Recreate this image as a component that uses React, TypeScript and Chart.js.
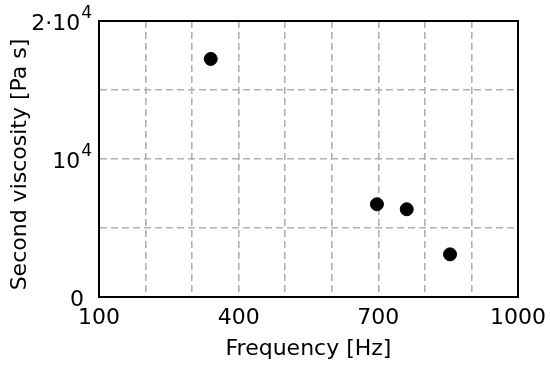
import React, { useEffect, useRef } from "react";
import { Chart, registerables } from "chart.js";

Chart.register(...registerables);

const frequencies = [340, 697, 761, 854];
const viscosities = [17250, 6720, 6360, 3090];
const xTickLabels: Record<number, string> = { 100: "100", 400: "400", 700: "700", 1000: "1000" };
// y tick labels: value, mantissa text, exponent (superscript) text
const yTickValues = [0, 10000, 20000];
const yTickBase = ["0", "10", "2·10"];
const yTickExp = ["", "4", "4"];
const xTitle = "Frequency [Hz]";
const yTitle = "Second viscosity [Pa s]";

const FAMILY = "'DejaVu Sans', sans-serif";

export default function App() {
  const ref = useRef<HTMLCanvasElement>(null);
  useEffect(() => {
    if (!ref.current) return;
    const font = { family: FAMILY, size: 22 };
    const chart = new Chart(ref.current, {
      type: "scatter",
      data: {
        datasets: [
          {
            data: frequencies.map((f, i) => ({ x: f, y: viscosities[i] })),
            backgroundColor: "#000",
            borderColor: "#000",
            pointRadius: 6.5,
            pointHoverRadius: 6.5,
          },
        ],
      },
      options: {
        animation: false,
        responsive: true,
        maintainAspectRatio: false,
        layout: { padding: { top: 21, right: 32, left: 0, bottom: 0 } },
        plugins: { legend: { display: false }, tooltip: { enabled: false } },
        scales: {
          x: {
            type: "linear",
            min: 100,
            max: 1000,
            afterFit: (s: any) => { s.height = 72; s.paddingLeft = 0; s.paddingRight = 0; },
            border: { color: "#000", width: 2, dash: [7, 4] },
            grid: { color: "#b0b0b0", lineWidth: 1.6, drawTicks: false },
            ticks: {
              stepSize: 100,
              padding: 8,
              color: "#000",
              font,
              maxRotation: 0,
              autoSkip: false,
              callback: (v: any) => xTickLabels[v as number] ?? "",
            },
            title: { display: true, text: xTitle, color: "#000", font, padding: { top: 0, bottom: 7 } },
          },
          y: {
            type: "linear",
            min: 0,
            max: 20000,
            afterFit: (s: any) => { s.width = 99; s.paddingTop = 0; s.paddingBottom = 0; },
            border: { color: "#000", width: 2, dash: [7, 4] },
            grid: { color: "#b0b0b0", lineWidth: 1.6, drawTicks: false },
            ticks: {
              stepSize: 5000,
              padding: 8,
              color: "#000",
              font,
              autoSkip: false,
              callback: () => "",
            },
            title: { display: false },
          },
        },
      },
      plugins: [
        {
          id: "frameBox",
          afterDatasetsDraw: (c: any) => {
            const { left, right, top, bottom } = c.chartArea;
            const ctx = c.ctx;
            ctx.save();
            ctx.strokeStyle = "#000";
            ctx.lineWidth = 2;
            ctx.setLineDash([]);
            ctx.strokeRect(left, top, right - left, bottom - top);
            ctx.restore();
          },
        },
        {
          id: "yLabels",
          afterDraw: (c: any) => {
            const ys = c.scales.y;
            const ctx = c.ctx;
            ctx.save();
            ctx.fillStyle = "#000";
            ctx.textBaseline = "alphabetic";
            ctx.textAlign = "left";
            yTickValues.forEach((v, i) => {
              const py = ys.getPixelForValue(v);
              const base = yTickBase[i];
              const exp = yTickExp[i];
              ctx.font = `22px ${FAMILY}`;
              const bw = ctx.measureText(base).width;
              let ew = 0;
              if (exp) {
                ctx.font = `17px ${FAMILY}`;
                ew = ctx.measureText(exp).width;
              }
              const rightX = exp ? ys.right - 7 : ys.right - 15;
              const startX = rightX - ew - bw - (exp ? 1 : 0);
              ctx.font = `22px ${FAMILY}`;
              ctx.fillText(base, startX, py + 8.5);
              if (exp) {
                ctx.font = `17px ${FAMILY}`;
                ctx.fillText(exp, startX + bw + 1, py - 3);
              }
            });
            // y axis title
            const midY = (c.chartArea.top + c.chartArea.bottom) / 2 + 5.5;
            ctx.translate(20.5, midY);
            ctx.rotate(-Math.PI / 2);
            ctx.font = `22px ${FAMILY}`;
            ctx.textAlign = "center";
            ctx.textBaseline = "middle";
            ctx.fillText(yTitle, 0, 0);
            ctx.restore();
          },
        },
      ],
    } as any);
    return () => chart.destroy();
  }, []);
  return (
    <div style={{ position: "fixed", left: 0, top: 0, width: 550, height: 369, background: "#fff" }}>
      <canvas ref={ref} />
    </div>
  );
}
